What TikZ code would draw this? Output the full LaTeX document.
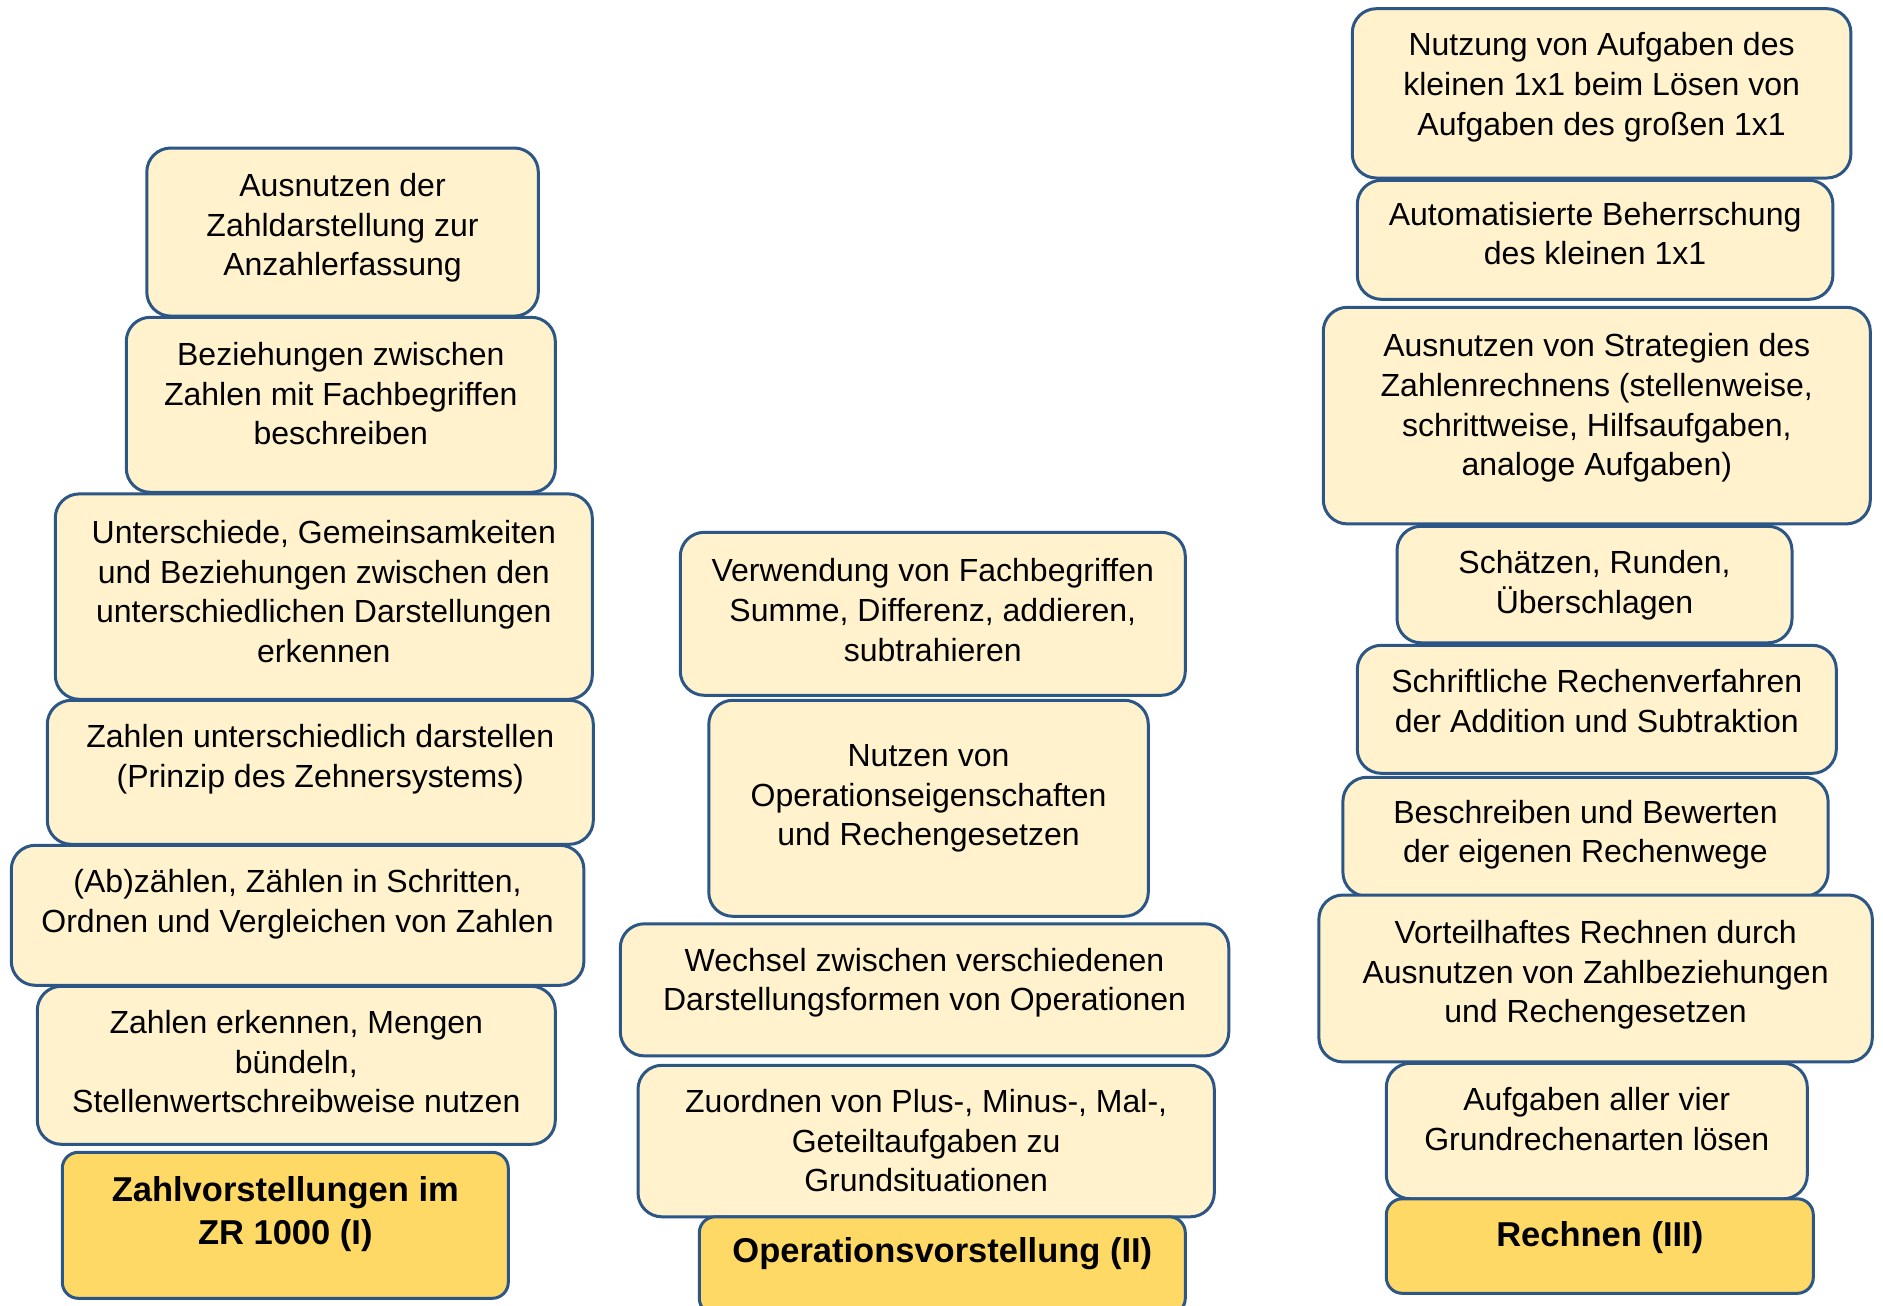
\documentclass[tikz,border=0pt]{standalone}
\usepackage{fontspec}
\setmainfont{Liberation Sans}
\definecolor{boxfill}{HTML}{FFF2CC}
\definecolor{titlefill}{HTML}{FFD966}
\definecolor{boxline}{HTML}{2B5685}
\tikzset{
  stage/.style={draw=boxline, line width=3pt, fill=boxfill, rounded corners=24pt,
    inner sep=0pt, anchor=north west,
    font=\fontsize{32}{39.6}\selectfont},
  headline/.style={stage, fill=titlefill, rounded corners=16pt,
    font=\bfseries\fontsize{34.5}{43.2}\selectfont},
}
% \kbox{name}{style}{left}{top}{right}{bottom}{first baseline}{text}
\newcommand{\kbox}[8]{%
  \node[#2] (#1) at (#3,#4)
    {\parbox[c][\dimexpr #6pt-#4pt\relax][t]{\dimexpr #5pt-#3pt\relax}%
      {\centering\rule{0pt}{\dimexpr #7pt-1.5pt\relax}#8\par}};}
\begin{document}
\begin{tikzpicture}[x=1pt,y=-1pt]
\useasboundingbox (1.2,1.2) rectangle (1884.2,1307.2);
% column I: Zahlvorstellungen
\kbox{zA}{stage}{146.5}{147.7}{538}{315.8}{49.9}{Ausnutzen der\\Zahldarstellung zur\\Anzahlerfassung}
\kbox{zB}{stage}{126}{317}{555}{492}{49.9}{Beziehungen zwischen\\Zahlen mit Fachbegriffen\\beschreiben}
\kbox{zC}{stage}{55}{493.6}{592}{699}{51.1}{Unterschiede, Gemeinsamkeiten\\und Beziehungen zwischen den\\unterschiedlichen Darstellungen\\erkennen}
\kbox{zD}{stage}{47}{700}{593}{844}{48.7}{Zahlen unterschiedlich darstellen\\(Prinzip des Zehnersystems)}
\kbox{zE}{stage}{11}{845}{583.6}{985}{48.7}{(Ab)zählen, Zählen in Schritten,\\Ordnen und Vergleichen von Zahlen}
\kbox{zF}{stage}{37}{986}{555}{1144}{48.7}{Zahlen erkennen, Mengen\\bündeln,\\Stellenwertschreibweise nutzen}
\kbox{zT}{headline}{62}{1152}{508}{1298}{50.8}{Zahlvorstellungen im\\ZR 1000 (I)}
% column II: Operationsvorstellung
\kbox{oA}{stage}{680}{532}{1185}{695}{51.1}{Verwendung von Fachbegriffen\\Summe, Differenz, addieren,\\subtrahieren}
\kbox{oB}{stage}{708.5}{700}{1148}{916}{67.9}{Nutzen von\\Operationseigenschaften\\und Rechengesetzen}
\kbox{oC}{stage}{620}{923.5}{1228.5}{1055.6}{48.7}{Wechsel zwischen verschiedenen\\Darstellungsformen von Operationen}
\kbox{oD}{stage}{637.7}{1065}{1214}{1216.5}{48.7}{Zuordnen von Plus-, Minus-, Mal-,\\Geteiltaufgaben zu\\Grundsituationen}
\kbox{oT}{headline}{699}{1216.5}{1185}{1314}{47.2}{Operationsvorstellung (II)}
% column III: Rechnen
\kbox{rA}{stage}{1352}{8.4}{1850.6}{177.7}{48.7}{Nutzung von Aufgaben des\\kleinen 1x1 beim Lösen von\\Aufgaben des großen 1x1}
\kbox{rB}{stage}{1357}{180}{1832.6}{299}{46.3}{Automatisierte Beherrschung\\des kleinen 1x1}
\kbox{rC}{stage}{1323}{307}{1870}{523.6}{51.1}{Ausnutzen von Strategien des\\Zahlenrechnens (stellenweise,\\schrittweise, Hilfsaufgaben,\\analoge Aufgaben)}
\kbox{rD}{stage}{1396.7}{526}{1791.7}{642.5}{48.7}{Schätzen, Runden,\\Überschlagen}
\kbox{rE}{stage}{1357}{645}{1836}{773}{48.7}{Schriftliche Rechenverfahren\\der Addition und Subtraktion}
\kbox{rF}{stage}{1342.6}{777}{1827.8}{896}{47.5}{Beschreiben und Bewerten\\der eigenen Rechenwege}
\kbox{rG}{stage}{1318.6}{894.7}{1872}{1061.6}{49.9}{Vorteilhaftes Rechnen durch\\Ausnutzen von Zahlbeziehungen\\und Rechengesetzen}
\kbox{rH}{stage}{1386}{1063}{1807}{1198.5}{48.7}{Aufgaben aller vier\\Grundrechenarten lösen}
\kbox{rT}{headline}{1386}{1198.5}{1813}{1293}{49.6}{Rechnen (III)}
\end{tikzpicture}
\end{document}
